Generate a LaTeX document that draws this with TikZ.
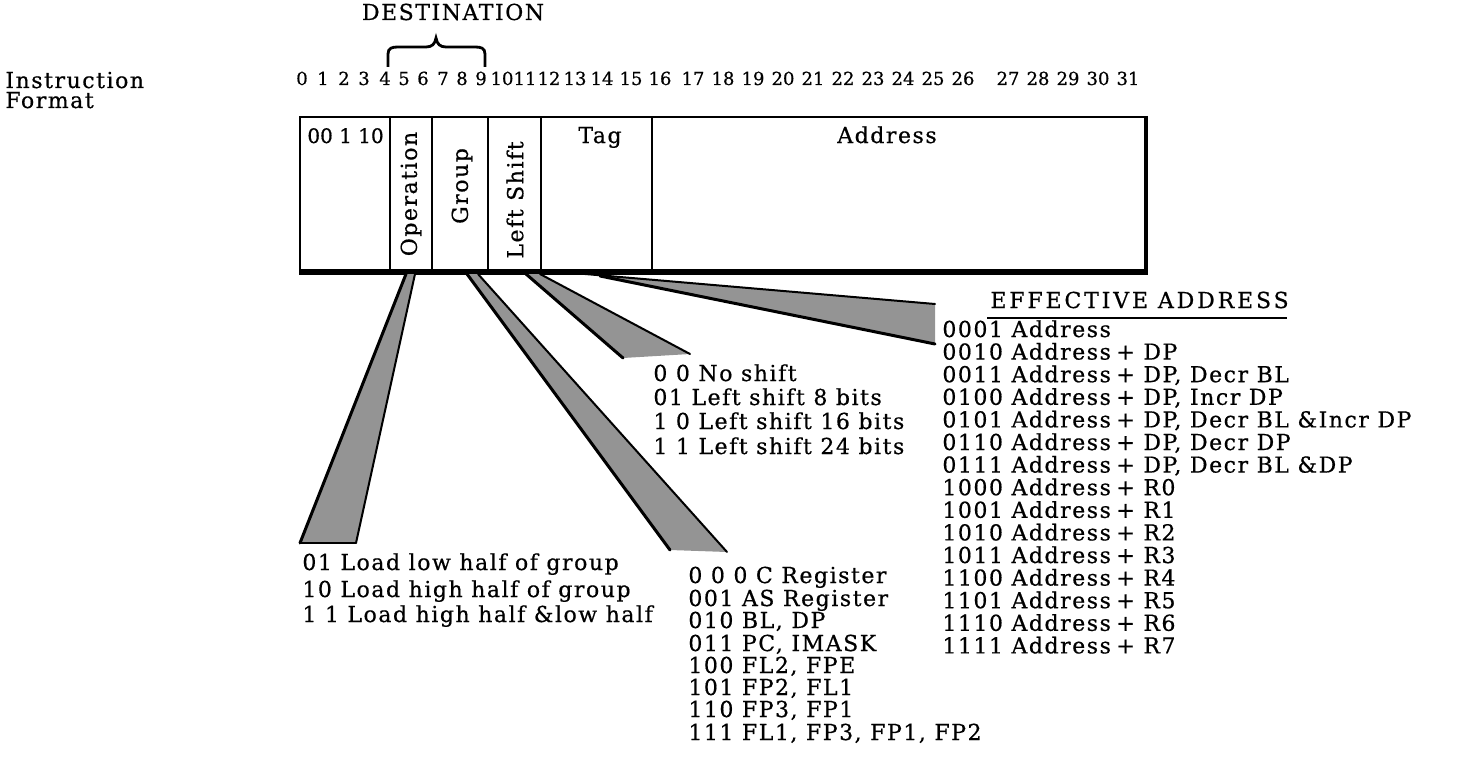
\documentclass[tikz,border=0pt]{standalone}
\usepackage{fontspec}
\setmainfont[LetterSpace=7,FakeBold=0.6]{DejaVu Serif}
\newfontfamily\numfont[FakeBold=0.6]{DejaVu Serif}
\newfontfamily\widefont[LetterSpace=13,FakeBold=0.6]{DejaVu Serif}
\begin{document}
\begin{tikzpicture}[x=0.5pt,y=-0.5pt,
  txt/.style={font=\fontsize{11}{13}\selectfont, inner sep=0pt, anchor=base west},
  ctxt/.style={font=\fontsize{11}{13}\selectfont, inner sep=0pt, anchor=base},
  num/.style={font=\numfont\fontsize{9}{12}\selectfont, inner sep=0pt, anchor=base},
  vtxt/.style={font=\fontsize{11}{13}\selectfont, inner sep=0pt, rotate=90, anchor=center},
  fanfill/.style={fill=black!42},
  fanthick/.style={line width=1.5pt, line cap=round},
  fanthin/.style={line width=1pt, line cap=round},
  boxline/.style={line width=1pt}]
\useasboundingbox (0,0) rectangle (1476,765);

% header texts
\node[ctxt] (dest) at (453,20) {DESTINATION};
\draw[line width=1.4pt] (388,67) -- (388,54) .. controls (388,48) and (392,47) .. (398,47) -- (426,47) .. controls (432,47) and (435,44) .. (436,38) .. controls (437,44) and (440,47) .. (446,47) -- (475,47) .. controls (481,47) and (485,48) .. (485,54) -- (485,67);
\node[txt] (instr) at (5,88) {Instruction};
\node[txt] (fmt) at (5,108) {Format};

% bit numbers
\foreach \n/\xx in {0/302,1/323,2/344,3/364,4/385,5/404,6/423,7/443,8/462,9/481,
  10/502,11/525,12/549,13/575,14/602,15/631,16/660,
  17/693,18/723,19/753,20/783,21/813,22/843,23/873,24/903,25/933,26/963,
  27/1008,28/1038,29/1068,30/1098,31/1128}
  \node[num] (b\n) at (\xx,85) {\n};

% instruction box
\draw[boxline] (300,117) rectangle (1146,272);
\draw[line width=2.6pt] (299,272) -- (1148,272);
\draw[line width=1.6pt] (1146,116) -- (1146,272);
\foreach \xx in {390,432,488,541,652}
  \draw[boxline] (\xx,117) -- (\xx,272);

\node[txt, font=\numfont\fontsize{10}{12}\selectfont] (fid) at (307,143) {00 1 10};
\node[vtxt] (fop) at (411,194) {Operation};
\node[vtxt] (fgr) at (462,186) {Group};
\node[vtxt] (fls) at (515,200) {Left Shift};
\node[ctxt] (ftag) at (600,143) {Tag};
\node[ctxt] (fadr) at (887,143) {Address};

% fans
\fill[fanfill] (406,274) -- (415,274) -- (356,543) -- (300,543) -- cycle;
\draw[fanthick] (406,274) -- (300,543);
\draw[fanthin] (415,274) -- (356,543);
\draw[fanthin] (300,543) -- (356,543);

\fill[fanfill] (467,274) -- (478,274) -- (727,552) -- (670,550) -- cycle;
\draw[fanthick] (467,274) -- (670,550);
\draw[fanthin] (478,274) -- (727,552);

\fill[fanfill] (526,274) -- (540,274) -- (690,354) -- (623,358) -- cycle;
\draw[fanthick] (526,274) -- (623,358);
\draw[fanthin] (540,274) -- (690,354);

\fill[fanfill] (585,274) -- (935,304) -- (935,344) -- (605,276) -- cycle;
\draw[fanthin] (585,274) -- (935,304);
\draw[fanthick] (600,276) -- (935,344);

% operation list
\node[txt] (op1) at (302,570) {01 Load low half of group};
\node[txt] (op2) at (302,597) {10 Load high half of group};
\node[txt] (op3) at (302,622) {1 1 Load high half \&low half};

% shift list
\node[txt] (ls1) at (653,381) {0 0 No shift};
\node[txt] (ls2) at (653,405) {01 Left shift 8 bits};
\node[txt] (ls3) at (653,429) {1 0 Left shift 16 bits};
\node[txt] (ls4) at (653,454) {1 1 Left shift 24 bits};

% group list
\node[txt] (g1) at (688,583) {0 0 0 C Register};
\node[txt] (g2) at (688,606) {001 AS Register};
\node[txt] (g3) at (688,628) {010 BL, DP};
\node[txt] (g4) at (688,651) {011 PC, IMASK};
\node[txt] (g5) at (688,673) {100 FL2, FPE};
\node[txt] (g6) at (688,695) {101 FP2, FL1};
\node[txt] (g7) at (688,717) {110 FP3, FP1};
\node[txt] (g8) at (688,740) {111 FL1, FP3, FP1, FP2};

% effective address
\node[txt, font=\widefont\fontsize{11}{13}\selectfont] (eah) at (990,308) {EFFECTIVE ADDRESS};
\draw[line width=1pt] (987,318) -- (1287,318);
\foreach \i/\c/\s in {0/0001/{},1/0010/{+ DP},2/0011/{+ DP, Decr BL},3/0100/{+ DP, Incr DP},
  4/0101/{+ DP, Decr BL \&Incr DP},5/0110/{+ DP, Decr DP},6/0111/{+ DP, Decr BL \&DP},
  7/1000/{+ R0},8/1001/{+ R1},9/1010/{+ R2},10/1011/{+ R3},11/1100/{+ R4},
  12/1101/{+ R5},13/1110/{+ R6},14/1111/{+ R7}}{
  \node[txt] (eac\i) at (942,337+22.6*\i) {\c\ Address};
  \node[txt] (eas\i) at (1116,337+22.6*\i) {\s};
}
\end{tikzpicture}
\end{document}
